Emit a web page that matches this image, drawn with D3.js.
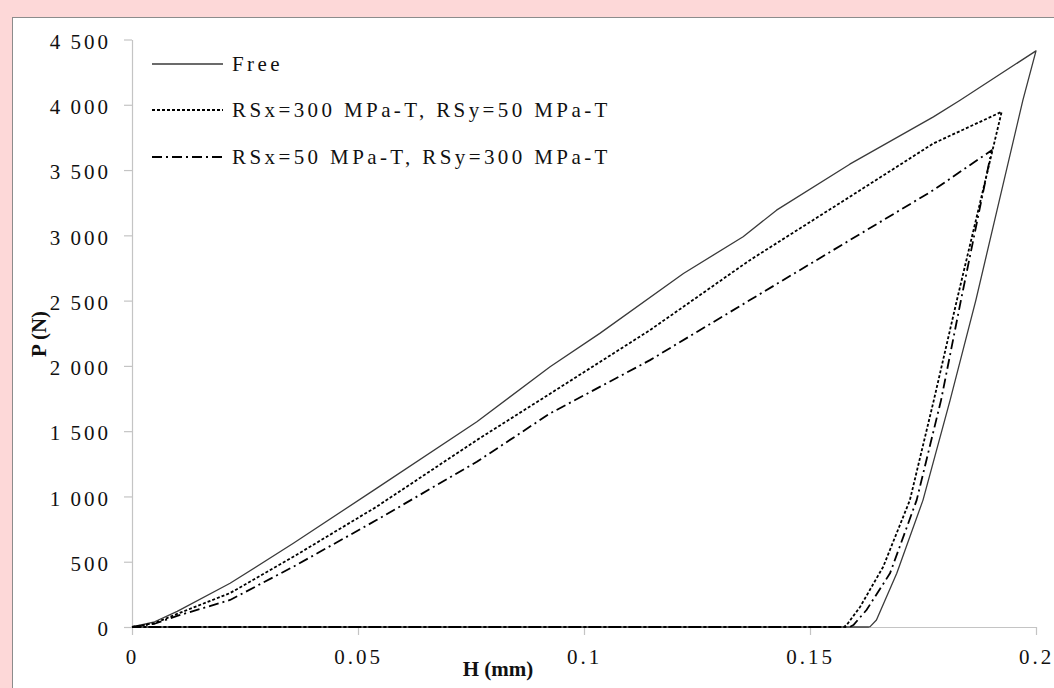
<!DOCTYPE html>
<html>
<head>
<meta charset="utf-8">
<script src="https://cdn.jsdelivr.net/npm/d3@7"></script>
<style>
  body { margin: 0; background: #fdd8d8; }
  svg { display: block; }
  text { font-family: "Liberation Serif", "Times New Roman", serif; fill: #111; }
</style>
</head>
<body>
<div id="chart"></div>
<script>
// ---- data (H in mm, P in N) ----
var seriesNames = ["Free", "RSx=300 MPa-T, RSy=50 MPa-T", "RSx=50 MPa-T, RSy=300 MPa-T"];

var freeH = [0, 0.005, 0.01, 0.0217, 0.0357, 0.0541, 0.0763, 0.0925, 0.1035, 0.122, 0.1352, 0.1426, 0.1588, 0.1773, 0.1832, 0.2,
             0.1971, 0.1867, 0.181, 0.175, 0.1692, 0.1647, 0.1633, 0.163, 0];
var freeP = [0, 40, 120, 335, 641, 1062, 1572, 1993, 2249, 2708, 2989, 3193, 3545, 3907, 4035, 4413,
             4035, 2504, 1738, 972, 411, 54, 3, 0, 0];

var rs1H = [0, 0.005, 0.01, 0.0217, 0.0357, 0.0541, 0.0763, 0.0925, 0.1146, 0.1367, 0.1588, 0.1773, 0.1924,
            0.1825, 0.1774, 0.1721, 0.1662, 0.1611, 0.1581, 0.1575, 0];
var rs1P = [0, 30, 100, 260, 538, 921, 1432, 1787, 2274, 2810, 3295, 3704, 3946,
            2504, 1738, 972, 462, 155, 15, 0, 0];

var rs2H = [0, 0.005, 0.01, 0.0217, 0.0357, 0.0541, 0.0763, 0.0925, 0.1146, 0.1367, 0.1588, 0.1773, 0.1902,
            0.1834, 0.179, 0.1736, 0.1677, 0.1625, 0.1596, 0.1588, 0];
var rs2P = [0, 25, 85, 207, 462, 819, 1266, 1636, 2044, 2504, 2963, 3346, 3652,
            2504, 1738, 972, 411, 130, 15, 0, 0];

var xTicks = [0, 0.05, 0.1, 0.15, 0.2];
var yTicks = [0, 500, 1000, 1500, 2000, 2500, 3000, 3500, 4000, 4500];

var width = 1054, height = 688;

var svg = d3.select("#chart").append("svg")
  .attr("width", width)
  .attr("height", height);

// white panel with grey frame
svg.append("rect")
  .attr("x", 12.5).attr("y", 17.5)
  .attr("width", width).attr("height", height)
  .attr("fill", "#fff")
  .attr("stroke", "#8c8c8c")
  .attr("stroke-width", 1);

var xScale = d3.scaleLinear().domain([0, 0.2]).range([132, 1036]);
var yScale = d3.scaleLinear().domain([0, 4500]).range([627, 39.5]);

var loc = d3.formatLocale({ decimal: ".", thousands: "\u2009", grouping: [3], currency: ["", ""] });
var yFmt = loc.format(",");
var xFmt = d3.format("~");

// axes
var xAxis = svg.append("g")
  .attr("transform", "translate(0,627)")
  .call(d3.axisBottom(xScale).tickValues(xTicks).tickFormat(xFmt).tickSize(8).tickSizeOuter(0).tickPadding(14));

var yAxis = svg.append("g")
  .attr("transform", "translate(132,0)")
  .call(d3.axisLeft(yScale).tickValues(yTicks).tickFormat(yFmt).tickSize(8).tickSizeOuter(0).tickPadding(13));

[xAxis, yAxis].forEach(function(ax) {
  ax.attr("font-family", "Liberation Serif");
  ax.select(".domain").attr("stroke", "#c4c4c4").attr("stroke-width", 1.2);
  ax.selectAll(".tick line").attr("stroke", "#c4c4c4").attr("stroke-width", 1.2);
  ax.selectAll(".tick text")
    .attr("fill", "#111")
    .style("font-size", "21px")
    .style("letter-spacing", "3px");
});
yAxis.selectAll(".tick text").attr("dy", "0.42em");

// series
var series = [
  { name: seriesNames[0], h: freeH, p: freeP, color: "#3a3a3a", width: 1.3, dash: null },
  { name: seriesNames[1], h: rs1H, p: rs1P, color: "#000", width: 1.8, dash: "3,2" },
  { name: seriesNames[2], h: rs2H, p: rs2P, color: "#000", width: 1.8, dash: "10,4,2,4" }
];

var line = d3.line()
  .x(function(d) { return xScale(d[0]); })
  .y(function(d) { return yScale(d[1]); });

series.forEach(function(s) {
  var pts = s.h.map(function(h, i) { return [h, s.p[i]]; });
  svg.append("path")
    .datum(pts)
    .attr("d", line)
    .attr("fill", "none")
    .attr("stroke", s.color)
    .attr("stroke-width", s.width)
    .attr("stroke-linejoin", "round")
    .attr("stroke-dasharray", s.dash);
});

// legend
var legend = svg.append("g");
var legendY = [64, 110, 157];
series.forEach(function(s, i) {
  legend.append("line")
    .attr("x1", 152).attr("x2", 223)
    .attr("y1", legendY[i]).attr("y2", legendY[i])
    .attr("stroke", s.color)
    .attr("stroke-width", s.width)
    .attr("stroke-dasharray", s.dash);
  legend.append("text")
    .attr("x", 232).attr("y", legendY[i] + 7)
    .style("font-size", "21px")
    .style("letter-spacing", "3.4px")
    .text(s.name);
});

// axis titles
svg.append("text")
  .attr("x", 498).attr("y", 676)
  .attr("text-anchor", "middle")
  .style("font-size", "21px")
  .style("font-weight", "bold")
  .text("H (mm)");

svg.append("text")
  .attr("transform", "translate(46,334) rotate(-90)")
  .attr("text-anchor", "middle")
  .style("font-size", "21px")
  .style("font-weight", "bold")
  .text("P (N)");
</script>
</body>
</html>
